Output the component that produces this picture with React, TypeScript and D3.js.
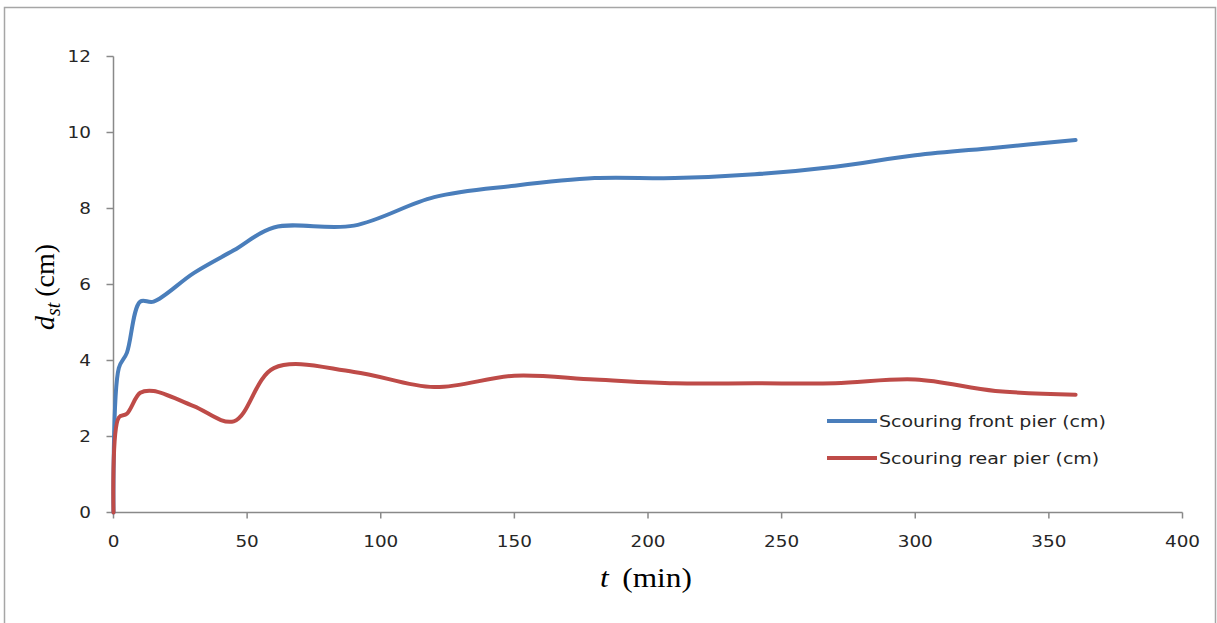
import React from "react";
import * as d3 from "d3";

// Time (min) and scour depth (cm) readings
const timeMin = [0, 2, 5, 10, 15, 30, 45, 60, 90, 120, 150, 180, 210, 240, 270, 300, 330, 360];
const frontPier = [0, 3.8, 4.2, 5.55, 5.55, 6.3, 6.9, 7.5, 7.55, 8.3, 8.6, 8.8, 8.8, 8.9, 9.1, 9.4, 9.6, 9.8];
const rearPier = [0, 2.5, 2.6, 3.15, 3.2, 2.8, 2.4, 3.8, 3.7, 3.3, 3.6, 3.5, 3.4, 3.4, 3.4, 3.5, 3.2, 3.1];

const xTicks = [0, 50, 100, 150, 200, 250, 300, 350, 400];
const yTicks = [0, 2, 4, 6, 8, 10, 12];

const seriesNames = ["Scouring front pier (cm)", "Scouring rear pier (cm)"];
const seriesColors = ["#4a7ebb", "#be4b48"];

const SANS = "'DejaVu Sans', sans-serif";
const SERIF = "'Liberation Serif', 'Times New Roman', serif";
const STRETCH = 1.15; // text is drawn slightly wide

function WideText(props: {
  x: number;
  y: number;
  anchor?: "start" | "middle" | "end";
  size: number;
  children: React.ReactNode;
  family?: string;
  fill?: string;
}) {
  const { x, y, anchor = "start", size, children, family = SANS, fill = "#262626" } = props;
  return (
    <text
      transform={`translate(${x},${y}) scale(${STRETCH},1)`}
      dy="0.36em"
      textAnchor={anchor}
      fontFamily={family}
      fontSize={size}
      fill={fill}
    >
      {children}
    </text>
  );
}

export default function App() {
  const W = 1217;
  const H = 623;
  const x = d3.scaleLinear().domain([0, 400]).range([113.5, 1182.5]);
  const y = d3.scaleLinear().domain([0, 12]).range([512.5, 56.5]);

  const line = d3
    .line<[number, number]>()
    .x((d) => x(d[0]))
    .y((d) => y(d[1]))
    .curve(d3.curveCatmullRom.alpha(0.5));

  const series = [frontPier, rearPier].map((vals) =>
    timeMin.map((t, i) => [t, vals[i]] as [number, number])
  );

  const axisColor = "#898989";

  return (
    <svg
      width={W}
      height={H}
      style={{ position: "absolute", left: 0, top: 0, background: "#fff" }}
    >
      {/* outer frame */}
      <path d={`M4.5,${H + 2} V7.5 H1215.5 V${H + 2}`} fill="none" stroke="#a6a6a6" strokeWidth={1.5} />

      {/* y axis */}
      <line x1={x(0)} x2={x(0)} y1={y(0)} y2={y(12)} stroke={axisColor} strokeWidth={1.5} />
      {yTicks.map((v) => (
        <g key={`y${v}`}>
          <line x1={x(0) - 7} x2={x(0)} y1={y(v)} y2={y(v)} stroke={axisColor} strokeWidth={1.5} />
          <WideText x={91} y={y(v)} anchor="end" size={16}>
            {v}
          </WideText>
        </g>
      ))}

      {/* x axis */}
      <line x1={x(0)} x2={x(400)} y1={y(0)} y2={y(0)} stroke={axisColor} strokeWidth={1.5} />
      {xTicks.map((t) => (
        <g key={`x${t}`}>
          <line x1={x(t)} x2={x(t)} y1={y(0)} y2={y(0) + 6} stroke={axisColor} strokeWidth={1.5} />
          <WideText x={x(t)} y={541} anchor="middle" size={16}>
            {t}
          </WideText>
        </g>
      ))}

      {/* series lines */}
      {series.map((pts, i) => (
        <path
          key={`s${i}`}
          d={line(pts) ?? ""}
          fill="none"
          stroke={seriesColors[i]}
          strokeWidth={4}
          strokeLinejoin="round"
          strokeLinecap="round"
        />
      ))}

      {/* legend */}
      {seriesNames.map((name, i) => (
        <g key={`l${i}`}>
          <line
            x1={827}
            x2={877}
            y1={421 + i * 37}
            y2={421 + i * 37}
            stroke={seriesColors[i]}
            strokeWidth={4}
          />
          <WideText x={879} y={421 + i * 37} size={16.5}>
            {name}
          </WideText>
        </g>
      ))}

      {/* axis titles */}
      <text
        transform={`translate(646,587) scale(1.12,1)`}
        textAnchor="middle"
        fontFamily={SERIF}
        fontSize={28}
        fill="#000"
      >
        <tspan fontStyle="italic">t</tspan>
        <tspan dx={12}>(min)</tspan>
      </text>
      <text
        transform="translate(54,287) rotate(-90)"
        textAnchor="middle"
        fontFamily={SERIF}
        fontSize={28}
        fill="#000"
      >
        <tspan fontStyle="italic">d</tspan>
        <tspan fontStyle="italic" fontSize={20} dy={6}>st</tspan>
        <tspan dy={-6} dx={6}>(cm)</tspan>
      </text>
    </svg>
  );
}
